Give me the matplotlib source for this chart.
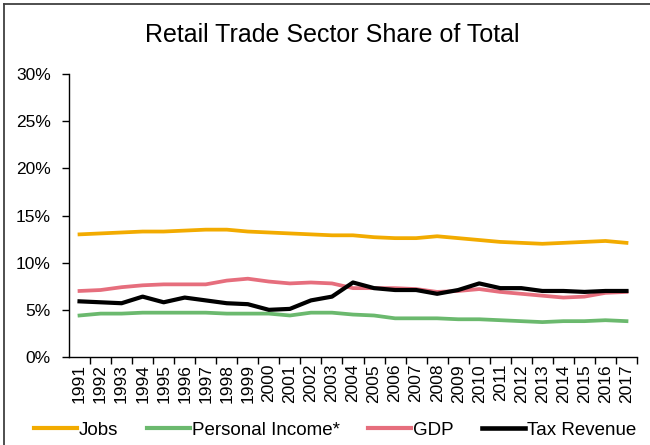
import numpy as np
import matplotlib.pyplot as plt
from matplotlib.lines import Line2D

plt.rcParams['font.family'] = ['Liberation Sans', 'DejaVu Sans']

years = [str(y) for y in range(1991, 2018)]
jobs = [13.0, 13.1, 13.2, 13.3, 13.3, 13.4, 13.5, 13.5, 13.3, 13.2, 13.1, 13.0, 12.9,
        12.9, 12.7, 12.6, 12.6, 12.8, 12.6, 12.4, 12.2, 12.1, 12.0, 12.1, 12.2, 12.3, 12.1]
personal_income = [4.4, 4.6, 4.6, 4.7, 4.7, 4.7, 4.7, 4.6, 4.6, 4.6, 4.4, 4.7, 4.7,
                   4.5, 4.4, 4.1, 4.1, 4.1, 4.0, 4.0, 3.9, 3.8, 3.7, 3.8, 3.8, 3.9, 3.8]
gdp = [7.0, 7.1, 7.4, 7.6, 7.7, 7.7, 7.7, 8.1, 8.3, 8.0, 7.8, 7.9, 7.8,
       7.3, 7.3, 7.3, 7.2, 6.9, 7.0, 7.2, 6.9, 6.7, 6.5, 6.3, 6.4, 6.8, 6.9]
tax_revenue = [5.9, 5.8, 5.7, 6.4, 5.8, 6.3, 6.0, 5.7, 5.6, 5.0, 5.1, 6.0, 6.4,
               7.9, 7.3, 7.1, 7.1, 6.7, 7.1, 7.8, 7.3, 7.3, 7.0, 7.0, 6.9, 7.0, 7.0]

series = [('Jobs', jobs, '#F2AB00', 2.7),
          ('Personal Income*', personal_income, '#6BB96E', 2.7),
          ('GDP', gdp, '#E66E7D', 2.7),
          ('Tax Revenue', tax_revenue, '#000000', 3.0)]

fig = plt.figure(figsize=(6.5, 4.45), dpi=100)
ax = fig.add_axes([69 / 650, 1 - 357 / 445, 568 / 650, 283 / 445])

x = np.arange(len(years))
for name, vals, color, lw in series:
    ax.plot(x, vals, color=color, lw=lw, label=name, solid_joinstyle='round')

ax.set_xlim(-0.5, len(years) - 0.5)
ax.set_ylim(0, 30)
ax.set_yticks(range(0, 31, 5))
ax.set_yticklabels([f'{v}%' for v in range(0, 31, 5)], fontsize=12.5)
ax.set_xticks(x)
ax.set_xticklabels(years, rotation=90, fontsize=12.5)
# ticks sit between the categories
ax.set_xticks(np.arange(0.5, len(years)), minor=True)
ax.tick_params(axis='x', which='major', length=0, pad=5)
ax.tick_params(axis='x', which='minor', length=5, direction='out', width=1)
ax.tick_params(axis='y', length=5, width=1, pad=8)
for s in ['top', 'right']:
    ax.spines[s].set_visible(False)
for s in ['left', 'bottom']:
    ax.spines[s].set_linewidth(1)

fig.text(0.511, 1 - 35 / 445, 'Retail Trade Sector Share of Total',
         ha='center', va='center', fontsize=18)

handles = [Line2D([], [], color=c, lw=lw + 0.3) for _, _, c, lw in series]
fig.legend(handles, [s[0] for s in series], loc='center', ncol=4,
           bbox_to_anchor=(335 / 650, 1 - 430 / 445), frameon=False,
           fontsize=13.5, handlelength=2.3, handletextpad=0.1, columnspacing=1.5)

# chart frame (top and left edges)
fig.add_artist(Line2D([4 / 650, 4 / 650], [0, 1 - 4 / 445], transform=fig.transFigure,
                      color='#404040', lw=1.3))
fig.add_artist(Line2D([4 / 650, 1], [1 - 4 / 445, 1 - 4 / 445], transform=fig.transFigure,
                      color='#404040', lw=1.3))

fig.savefig('out.png', dpi=100)
